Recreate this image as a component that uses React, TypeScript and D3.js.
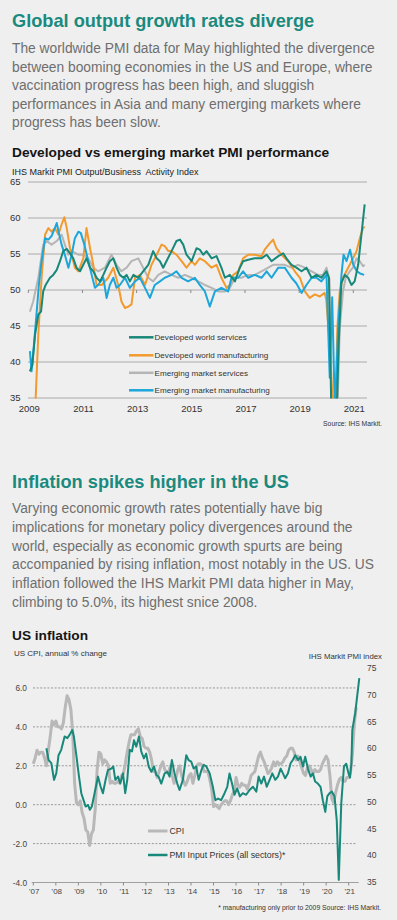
import React, { useRef, useEffect } from "react";
import * as d3 from "d3";

// Page text
const title1 = "Global output growth rates diverge";
const body1 = [
  "The worldwide PMI data for May highlighted the divergence",
  "between booming economies in the US and Europe, where",
  "vaccination progress has been high, and sluggish",
  "performances in Asia and many emerging markets where",
  "progress has been slow.",
];
const title2 = "Inflation spikes higher in the US";
const body2 = [
  "Varying economic growth rates potentially have big",
  "implications for monetary policy divergences around the",
  "world, especially as economic growth spurts are being",
  "accompanied by rising inflation, most notably in the US. US",
  "inflation followed the IHS Markit PMI data higher in May,",
  "climbing to 5.0%, its highest snice 2008.",
];

// Chart 1: PMI output index, [year, value]
const devServices: [number, number][] = [
  [2009.06, 38.7], [2009.15, 39.6], [2009.25, 43.8], [2009.37, 46.6], [2009.47, 47.0], [2009.55, 49.8],
  [2009.64, 50.7], [2009.8, 51.7], [2009.92, 52.1], [2010.05, 52.8], [2010.17, 54.0], [2010.29, 55.4],
  [2010.42, 55.7], [2010.54, 55.1], [2010.66, 54.4], [2010.78, 53.1], [2010.91, 52.6], [2011.03, 53.5],
  [2011.15, 54.4], [2011.28, 53.1], [2011.4, 52.6], [2011.52, 51.7], [2011.65, 51.2], [2011.77, 52.1],
  [2011.89, 53.1], [2012.01, 54.0], [2012.14, 54.4], [2012.26, 53.1], [2012.38, 52.1], [2012.51, 51.7],
  [2012.63, 52.1], [2012.75, 51.2], [2012.88, 52.1], [2013.06, 51.7], [2013.24, 52.6], [2013.43, 53.5],
  [2013.61, 55.4], [2013.74, 54.4], [2013.86, 54.0], [2013.98, 53.1], [2014.1, 54.0], [2014.29, 55.4],
  [2014.47, 56.8], [2014.6, 57.0], [2014.72, 56.3], [2014.84, 54.9], [2015.03, 54.0], [2015.21, 55.8],
  [2015.33, 55.6], [2015.46, 54.9], [2015.58, 55.4], [2015.77, 54.4], [2015.95, 54.7], [2016.13, 53.1],
  [2016.26, 51.7], [2016.44, 52.1], [2016.63, 51.2], [2016.81, 53.1], [2016.93, 54.0], [2017.12, 54.2],
  [2017.36, 54.4], [2017.61, 54.4], [2017.8, 54.9], [2017.98, 54.0], [2018.23, 54.7], [2018.41, 55.1],
  [2018.53, 54.4], [2018.72, 53.5], [2018.9, 53.1], [2019.09, 52.6], [2019.27, 53.1], [2019.46, 51.7],
  [2019.64, 52.1], [2019.82, 51.7], [2020.01, 52.6], [2020.1, 51.7], [2020.19, 33], [2020.29, 30],
  [2020.38, 32], [2020.46, 42.4], [2020.56, 51.0], [2020.69, 52.1], [2020.81, 51.7], [2020.93, 50.7],
  [2021.05, 51.2], [2021.18, 53.5], [2021.3, 57.7], [2021.42, 61.9],
];
const devManufacturing: [number, number][] = [
  [2009.25, 33], [2009.37, 43.8], [2009.49, 51.7], [2009.62, 57.7], [2009.74, 58.6], [2009.86, 58.1],
  [2009.98, 58.6], [2010.11, 57.7], [2010.23, 59.1], [2010.33, 60.1], [2010.42, 58.6], [2010.54, 55.8],
  [2010.72, 53.1], [2010.85, 52.6], [2011.03, 54.4], [2011.15, 58.6], [2011.28, 55.8], [2011.4, 53.5],
  [2011.52, 50.7], [2011.71, 50.7], [2011.95, 51.7], [2012.14, 53.1], [2012.32, 50.7], [2012.44, 48.4],
  [2012.57, 47.5], [2012.69, 47.7], [2012.81, 48.0], [2012.94, 51.7], [2013.12, 52.1], [2013.31, 50.7],
  [2013.55, 53.5], [2013.74, 54.9], [2013.92, 56.3], [2014.04, 56.1], [2014.17, 55.4], [2014.29, 55.4],
  [2014.47, 54.9], [2014.66, 54.0], [2014.84, 53.1], [2015.03, 54.0], [2015.15, 53.5], [2015.33, 54.4],
  [2015.52, 54.0], [2015.77, 53.1], [2015.95, 53.5], [2016.13, 51.7], [2016.32, 50.3], [2016.44, 50.7],
  [2016.57, 52.1], [2016.75, 52.6], [2016.93, 54.4], [2017.12, 54.9], [2017.36, 54.9], [2017.61, 54.7],
  [2017.73, 55.6], [2017.92, 56.5], [2018.04, 57.0], [2018.16, 55.8], [2018.35, 54.9], [2018.59, 54.0],
  [2018.84, 52.6], [2019.03, 51.7], [2019.21, 49.8], [2019.39, 48.9], [2019.58, 49.4], [2019.76, 49.1],
  [2019.94, 49.6], [2020.0, 48.7], [2020.13, 42.4], [2020.26, 33], [2020.34, 33], [2020.41, 44.7],
  [2020.5, 49.8], [2020.62, 51.7], [2020.81, 53.1], [2020.99, 54.4], [2021.12, 55.4], [2021.24, 57.2],
  [2021.36, 58.6], [2021.42, 58.8],
];
const emServices: [number, number][] = [
  [2009.06, 47.0], [2009.18, 48.4], [2009.37, 51.7], [2009.55, 56.3], [2009.68, 56.8], [2009.86, 56.3],
  [2010.05, 56.8], [2010.23, 57.7], [2010.35, 56.3], [2010.48, 54.9], [2010.6, 55.4], [2010.85, 54.9],
  [2011.03, 54.9], [2011.21, 54.4], [2011.4, 53.1], [2011.58, 52.6], [2011.83, 53.1], [2012.07, 54.9],
  [2012.26, 53.5], [2012.44, 52.6], [2012.63, 53.1], [2012.81, 54.0], [2013.06, 54.4], [2013.24, 53.1],
  [2013.43, 51.7], [2013.61, 51.2], [2013.8, 52.1], [2014.04, 52.6], [2014.29, 52.1], [2014.54, 51.7],
  [2014.78, 52.1], [2015.03, 51.7], [2015.27, 51.2], [2015.52, 50.7], [2015.77, 50.3], [2016.01, 49.8],
  [2016.26, 49.8], [2016.44, 50.3], [2016.63, 51.7], [2016.87, 51.7], [2017.12, 52.1], [2017.36, 52.1],
  [2017.61, 52.6], [2017.86, 53.1], [2018.04, 53.5], [2018.23, 53.5], [2018.47, 53.5], [2018.72, 53.1],
  [2018.96, 53.5], [2019.21, 53.1], [2019.46, 52.6], [2019.7, 52.1], [2019.88, 52.1], [2020.01, 53.1],
  [2020.12, 51.5], [2020.2, 33], [2020.34, 32], [2020.42, 34], [2020.5, 44.7], [2020.62, 49.8],
  [2020.72, 51.7], [2020.87, 52.6], [2020.99, 53.1], [2021.12, 54.4], [2021.24, 54.0], [2021.36, 53.3],
  [2021.42, 53.5],
];
const emManufacturing: [number, number][] = [
  [2009.06, 41.5], [2009.12, 38.7], [2009.22, 42.9], [2009.31, 47.0], [2009.39, 50.7], [2009.49, 54.0],
  [2009.62, 57.2], [2009.74, 57.0], [2009.86, 57.5], [2009.98, 58.6], [2010.05, 59.3], [2010.13, 57.9],
  [2010.23, 56.3], [2010.35, 54.9], [2010.48, 53.1], [2010.6, 54.9], [2010.72, 57.2], [2010.85, 58.1],
  [2010.94, 57.9], [2011.07, 56.3], [2011.19, 54.4], [2011.34, 52.1], [2011.46, 50.3], [2011.58, 50.7],
  [2011.77, 51.7], [2011.89, 48.9], [2012.01, 50.7], [2012.14, 51.7], [2012.26, 50.3], [2012.38, 50.7],
  [2012.57, 51.7], [2012.75, 50.3], [2012.94, 51.2], [2013.12, 51.7], [2013.31, 50.3], [2013.49, 48.9],
  [2013.67, 50.7], [2013.86, 51.2], [2014.04, 51.7], [2014.29, 52.1], [2014.47, 52.6], [2014.66, 51.7],
  [2014.9, 51.2], [2015.15, 51.7], [2015.33, 50.7], [2015.52, 49.8], [2015.7, 47.7], [2015.89, 49.8],
  [2016.13, 50.3], [2016.38, 49.8], [2016.5, 51.7], [2016.75, 51.7], [2016.93, 52.6], [2017.12, 51.7],
  [2017.36, 52.1], [2017.61, 51.7], [2017.8, 52.6], [2017.98, 51.7], [2018.23, 53.1], [2018.47, 53.1],
  [2018.72, 51.7], [2018.9, 50.9], [2019.09, 49.6], [2019.27, 50.7], [2019.46, 51.7], [2019.64, 51.7],
  [2019.82, 51.2], [2020.01, 52.1], [2020.13, 37.8], [2020.22, 49.0], [2020.32, 33], [2020.44, 44.7],
  [2020.56, 52.0], [2020.64, 54.9], [2020.75, 54.0], [2020.88, 55.6], [2021.0, 53.5], [2021.13, 52.6],
  [2021.25, 52.3], [2021.4, 52.1],
];
const pmiSeries = [
  { name: "Developed world services", color: "#17887a", data: devServices },
  { name: "Developed world manufacturing", color: "#f39a2f", data: devManufacturing },
  { name: "Emerging market services", color: "#b5b5b5", data: emServices },
  { name: "Emerging market manufacturing", color: "#1ca6da", data: emManufacturing },
];
const pmiTicks = [35, 40, 45, 50, 55, 60, 65];
const pmiYears = [2009, 2011, 2013, 2015, 2017, 2019, 2021];

// Chart 2: US CPI (annual % change, monthly from Jan 2007)
const cpi: number[] = [
  2.1, 2.4, 2.8, 2.6, 2.7, 2.7, 2.4, 2.0, 2.8, 3.5, 4.3, 4.1,
  4.3, 4.0, 4.0, 3.9, 4.2, 5.0, 5.6, 5.4, 4.9, 3.7, 1.1, 0.1,
  0.0, 0.2, -0.4, -0.7, -1.3, -1.4, -2.1, -1.5, -1.3, -0.2, 1.8, 2.7,
  2.6, 2.1, 2.3, 2.2, 2.0, 1.1, 1.2, 1.1, 1.1, 1.2, 1.1, 1.5,
  1.6, 2.1, 2.7, 3.2, 3.6, 3.6, 3.6, 3.8, 3.9, 3.5, 3.4, 3.0,
  2.9, 2.9, 2.7, 2.3, 1.7, 1.7, 1.4, 1.7, 2.0, 2.2, 1.8, 1.7,
  1.6, 2.0, 1.5, 1.1, 1.4, 1.8, 2.0, 1.5, 1.2, 1.0, 1.2, 1.5,
  1.6, 1.1, 1.5, 2.0, 2.1, 2.1, 2.0, 1.7, 1.7, 1.7, 1.3, 0.8,
  -0.1, 0.0, -0.1, -0.2, 0.0, 0.1, 0.2, 0.2, 0.0, 0.2, 0.5, 0.7,
  1.4, 1.0, 0.9, 1.1, 1.0, 1.0, 0.8, 1.1, 1.5, 1.6, 1.7, 2.1,
  2.5, 2.7, 2.4, 2.2, 1.9, 1.6, 1.7, 1.9, 2.2, 2.0, 2.2, 2.1,
  2.1, 2.2, 2.4, 2.5, 2.8, 2.9, 2.9, 2.7, 2.3, 2.5, 2.2, 1.9,
  1.6, 1.5, 1.9, 2.0, 1.8, 1.6, 1.8, 1.7, 1.7, 1.8, 2.1, 2.3,
  2.5, 2.3, 1.5, 0.3, 0.1, 0.6, 1.0, 1.3, 1.4, 1.2, 1.2, 1.4,
  1.4, 1.7, 2.6, 4.2, 5.0,
];
// PMI Input Prices (all sectors), [year, index]
const inputPrices: [number, number][] = [
  [2007.58, 60.0], [2007.68, 57.8], [2007.8, 57.2], [2007.92, 54.1], [2008.02, 55.3], [2008.12, 58.7],
  [2008.24, 59.7], [2008.39, 62.2], [2008.51, 61.9], [2008.61, 62.5], [2008.73, 63.4], [2008.8, 62.2],
  [2008.91, 58.7], [2009.01, 55.3], [2009.13, 51.6], [2009.23, 50.3], [2009.32, 49.1], [2009.43, 49.4],
  [2009.51, 48.5], [2009.6, 49.1], [2009.72, 51.6], [2009.87, 54.7], [2009.99, 52.8], [2010.09, 51.6],
  [2010.21, 54.1], [2010.31, 55.9], [2010.46, 56.2], [2010.55, 56.6], [2010.64, 54.1], [2010.76, 54.7],
  [2010.86, 53.4], [2010.98, 55.3], [2011.08, 51.6], [2011.17, 54.1], [2011.28, 59.7], [2011.38, 59.4],
  [2011.47, 61.5], [2011.57, 60.3], [2011.69, 62.2], [2011.79, 59.4], [2011.91, 58.1], [2012.01, 59.0],
  [2012.12, 56.6], [2012.24, 55.6], [2012.36, 56.6], [2012.46, 55.0], [2012.56, 54.7], [2012.68, 53.4],
  [2012.83, 55.3], [2012.95, 55.6], [2013.05, 54.7], [2013.15, 57.8], [2013.27, 55.3], [2013.39, 53.4],
  [2013.49, 52.2], [2013.64, 54.1], [2013.79, 58.7], [2013.89, 57.8], [2014.01, 57.5], [2014.12, 56.2],
  [2014.23, 56.6], [2014.34, 54.1], [2014.46, 55.9], [2014.56, 56.9], [2014.68, 56.6], [2014.83, 55.3],
  [2014.97, 52.8], [2015.08, 50.3], [2015.2, 50.6], [2015.34, 50.3], [2015.49, 51.6], [2015.61, 52.8],
  [2015.71, 55.3], [2015.82, 53.4], [2015.93, 51.3], [2016.05, 52.5], [2016.17, 51.0], [2016.3, 51.6],
  [2016.45, 51.3], [2016.6, 52.2], [2016.75, 52.8], [2016.9, 51.9], [2017.0, 54.7], [2017.12, 53.4],
  [2017.24, 54.7], [2017.36, 52.8], [2017.49, 54.1], [2017.61, 55.3], [2017.74, 54.1], [2017.86, 54.7],
  [2017.98, 56.2], [2018.08, 55.3], [2018.18, 54.4], [2018.3, 55.3], [2018.42, 57.2], [2018.52, 57.8],
  [2018.63, 58.7], [2018.75, 57.8], [2018.86, 58.4], [2018.97, 56.6], [2019.07, 58.4], [2019.19, 56.2],
  [2019.31, 54.7], [2019.41, 55.3], [2019.51, 53.8], [2019.63, 53.4], [2019.75, 52.8], [2019.85, 50.3],
  [2019.96, 48.1], [2020.05, 51.0], [2020.15, 51.6], [2020.25, 51.9], [2020.37, 51.0], [2020.47, 46.5],
  [2020.56, 35.4], [2020.67, 49.7], [2020.79, 56.6], [2020.89, 57.1], [2020.99, 55.3], [2021.06, 54.5],
  [2021.12, 57.2], [2021.16, 63.4], [2021.29, 66.6], [2021.47, 73.1],
];
const cpiTicks = [-4, -2, 0, 2, 4, 6];
const cpiGrid = [-2, 0, 2, 4, 6];
const indexTicks = [35, 40, 45, 50, 55, 60, 65, 70, 75];
const inflationYears = d3.range(2007, 2022);

const FONT = "'Liberation Sans', Arial, sans-serif";
const TEAL = "#17887a";

const App: React.FC = () => {
  const svgRef = useRef<SVGSVGElement | null>(null);

  useEffect(() => {
    if (!svgRef.current) return;
    const svg = d3.select(svgRef.current);
    svg.selectAll("*").remove();

    svg.append("rect").attr("width", 397).attr("height", 920).attr("fill", "#efefef");

    const text = (x: number, y: number, s: string, size: number, fill: string, anchor = "start", weight = "normal") =>
      svg
        .append("text")
        .attr("x", x)
        .attr("y", y)
        .attr("font-family", FONT)
        .attr("font-size", size)
        .attr("font-weight", weight)
        .attr("fill", fill)
        .attr("text-anchor", anchor)
        .text(s);

    // Section text
    text(12, 26.5, title1, 18.2, "#1a8a7e", "start", "bold");
    body1.forEach((l, i) => text(12, 53.3 + i * 18.5, l, 13.8, "#6e6e6e"));
    text(12, 488.3, title2, 18.2, "#1a8a7e", "start", "bold");
    body2.forEach((l, i) => text(12, 513.3 + i * 18.65, l, 13.8, "#6e6e6e"));

    // ---------- Chart 1 ----------
    text(12, 156.7, "Developed vs emerging market PMI performance", 13.7, "#151515", "start", "bold");
    text(12, 175, "IHS Markit PMI Output/Business  Activity Index", 9, "#222").attr("xml:space", "preserve");

    const x1 = d3.scaleLinear().domain([2009, 2021]).range([28.3, 353.3]);
    const y1 = d3.scaleLinear().domain([35, 65]).range([398, 182]);

    const c1 = svg.append("g").attr("class", "pmi-chart");
    c1.selectAll(".grid")
      .data(pmiTicks)
      .join("line")
      .attr("x1", 28)
      .attr("x2", 367)
      .attr("y1", (d) => y1(d))
      .attr("y2", (d) => y1(d))
      .attr("stroke", "#a3a3a3")
      .attr("stroke-width", 0.9);
    c1.selectAll(".ylab")
      .data(pmiTicks)
      .join("text")
      .attr("x", 20.5)
      .attr("y", (d) => y1(d) + 3.3)
      .attr("text-anchor", "end")
      .attr("font-family", FONT)
      .attr("font-size", 9.5)
      .attr("fill", "#333")
      .text((d) => d);
    c1.selectAll(".tick")
      .data(pmiYears)
      .join("line")
      .attr("x1", (d) => x1(d))
      .attr("x2", (d) => x1(d))
      .attr("y1", y1(50))
      .attr("y2", y1(50) + 3)
      .attr("stroke", "#8a8a8a");
    c1.selectAll(".xlab")
      .data(pmiYears)
      .join("text")
      .attr("x", (d) => x1(d) + 1)
      .attr("y", 411.5)
      .attr("text-anchor", "middle")
      .attr("font-family", FONT)
      .attr("font-size", 9.5)
      .attr("fill", "#333")
      .text((d) => d);

    svg
      .append("clipPath")
      .attr("id", "clip1")
      .append("rect")
      .attr("x", 20)
      .attr("y", 175)
      .attr("width", 360)
      .attr("height", 223.5);

    const line1 = d3
      .line<[number, number]>()
      .x((d) => x1(d[0]))
      .y((d) => y1(d[1]));
    const lines1 = c1.append("g").attr("clip-path", "url(#clip1)");
    [pmiSeries[2], pmiSeries[1], pmiSeries[3], pmiSeries[0]].forEach((s) => {
      lines1
        .append("path")
        .attr("d", line1(s.data))
        .attr("fill", "none")
        .attr("stroke", s.color)
        .attr("stroke-width", 2)
        .attr("stroke-linejoin", "round");
    });

    const legendY = [337.3, 355.3, 372.8, 390.3];
    pmiSeries.forEach((s, i) => {
      c1.append("line")
        .attr("x1", 129)
        .attr("x2", 153.5)
        .attr("y1", legendY[i])
        .attr("y2", legendY[i])
        .attr("stroke", s.color)
        .attr("stroke-width", 2.5);
      c1.append("text")
        .attr("x", 154.5)
        .attr("y", legendY[i] + 3)
        .attr("font-family", FONT)
        .attr("font-size", 8.1)
        .attr("fill", "#333")
        .text(s.name);
    });
    text(382, 425.5, "Source: IHS Markit.", 6.8, "#333", "end");

    // ---------- Chart 2 ----------
    text(12, 640, "US inflation", 13.7, "#151515", "start", "bold");
    text(14, 656, "US CPI, annual % change", 8, "#333");
    text(382, 658.5, "IHS Markit PMI index", 7.8, "#333", "end");

    const x2 = d3.scaleLinear().domain([2007, 2021]).range([33.3, 348.7]);
    const yL = d3.scaleLinear().domain([-4, 7]).range([882.5, 668.5]);
    const yR = d3.scaleLinear().domain([35, 75]).range([882, 668]);

    const c2 = svg.append("g").attr("class", "inflation-chart");
    c2.selectAll(".grid")
      .data(cpiGrid)
      .join("line")
      .attr("x1", 33)
      .attr("x2", 355.5)
      .attr("y1", (d) => yL(d))
      .attr("y2", (d) => yL(d))
      .attr("stroke", "#8f8f8f")
      .attr("stroke-width", 0.9)
      .attr("stroke-dasharray", "2,1.6");
    c2.append("line")
      .attr("x1", 31.7)
      .attr("x2", 358.7)
      .attr("y1", yL(-4))
      .attr("y2", yL(-4))
      .attr("stroke", "#a0a0a0");
    c2.selectAll(".tick")
      .data(inflationYears)
      .join("line")
      .attr("x1", (d) => x2(d))
      .attr("x2", (d) => x2(d))
      .attr("y1", yL(-4))
      .attr("y2", yL(-4) + 3)
      .attr("stroke", "#8a8a8a");
    c2.selectAll(".xlab")
      .data(inflationYears)
      .join("text")
      .attr("x", (d) => x2(d) + 1)
      .attr("y", 894)
      .attr("text-anchor", "middle")
      .attr("font-family", FONT)
      .attr("font-size", 8)
      .attr("fill", "#444")
      .text((d) => "'" + String(d).slice(2));
    c2.selectAll(".ylab")
      .data(cpiTicks)
      .join("text")
      .attr("x", 27)
      .attr("y", (d) => yL(d) + 3)
      .attr("text-anchor", "end")
      .attr("font-family", FONT)
      .attr("font-size", 8.3)
      .attr("fill", "#444")
      .text((d) => d.toFixed(1));
    c2.selectAll(".rlab")
      .data(indexTicks)
      .join("text")
      .attr("x", 367)
      .attr("y", (d) => yR(d) + 3)
      .attr("font-family", FONT)
      .attr("font-size", 8.5)
      .attr("fill", "#444")
      .text((d) => d);

    const cpiLine = d3
      .line<number>()
      .x((_, i) => x2(2007 + i / 12))
      .y((d) => yL(d));
    c2.append("path")
      .attr("d", cpiLine(cpi))
      .attr("fill", "none")
      .attr("stroke", "#b8b8b8")
      .attr("stroke-width", 3)
      .attr("stroke-linejoin", "round");
    const pmiLine = d3
      .line<[number, number]>()
      .x((d) => x2(d[0]))
      .y((d) => yR(d[1]));
    c2.append("path")
      .attr("d", pmiLine(inputPrices))
      .attr("fill", "none")
      .attr("stroke", TEAL)
      .attr("stroke-width", 2)
      .attr("stroke-linejoin", "round");

    // Legend
    const legend2 = [
      { name: "CPI", color: "#b8b8b8", w: 3, y: 831 },
      { name: "PMI Input Prices (all sectors)*", color: TEAL, w: 2.5, y: 855 },
    ];
    legend2.forEach((l) => {
      c2.append("line")
        .attr("x1", 148)
        .attr("x2", 167.5)
        .attr("y1", l.y)
        .attr("y2", l.y)
        .attr("stroke", l.color)
        .attr("stroke-width", l.w);
      c2.append("text")
        .attr("x", 169.5)
        .attr("y", l.y + 3.2)
        .attr("font-family", FONT)
        .attr("font-size", 8.8)
        .attr("fill", "#333")
        .text(l.name);
    });
    text(381, 910, "* manufacturing only prior to 2009 Source: IHS Markit.", 6.8, "#333", "end");
  }, []);

  return (
    <svg
      ref={svgRef}
      width={397}
      height={920}
      style={{ position: "absolute", left: 0, top: 0, display: "block" }}
    />
  );
};

export default App;
